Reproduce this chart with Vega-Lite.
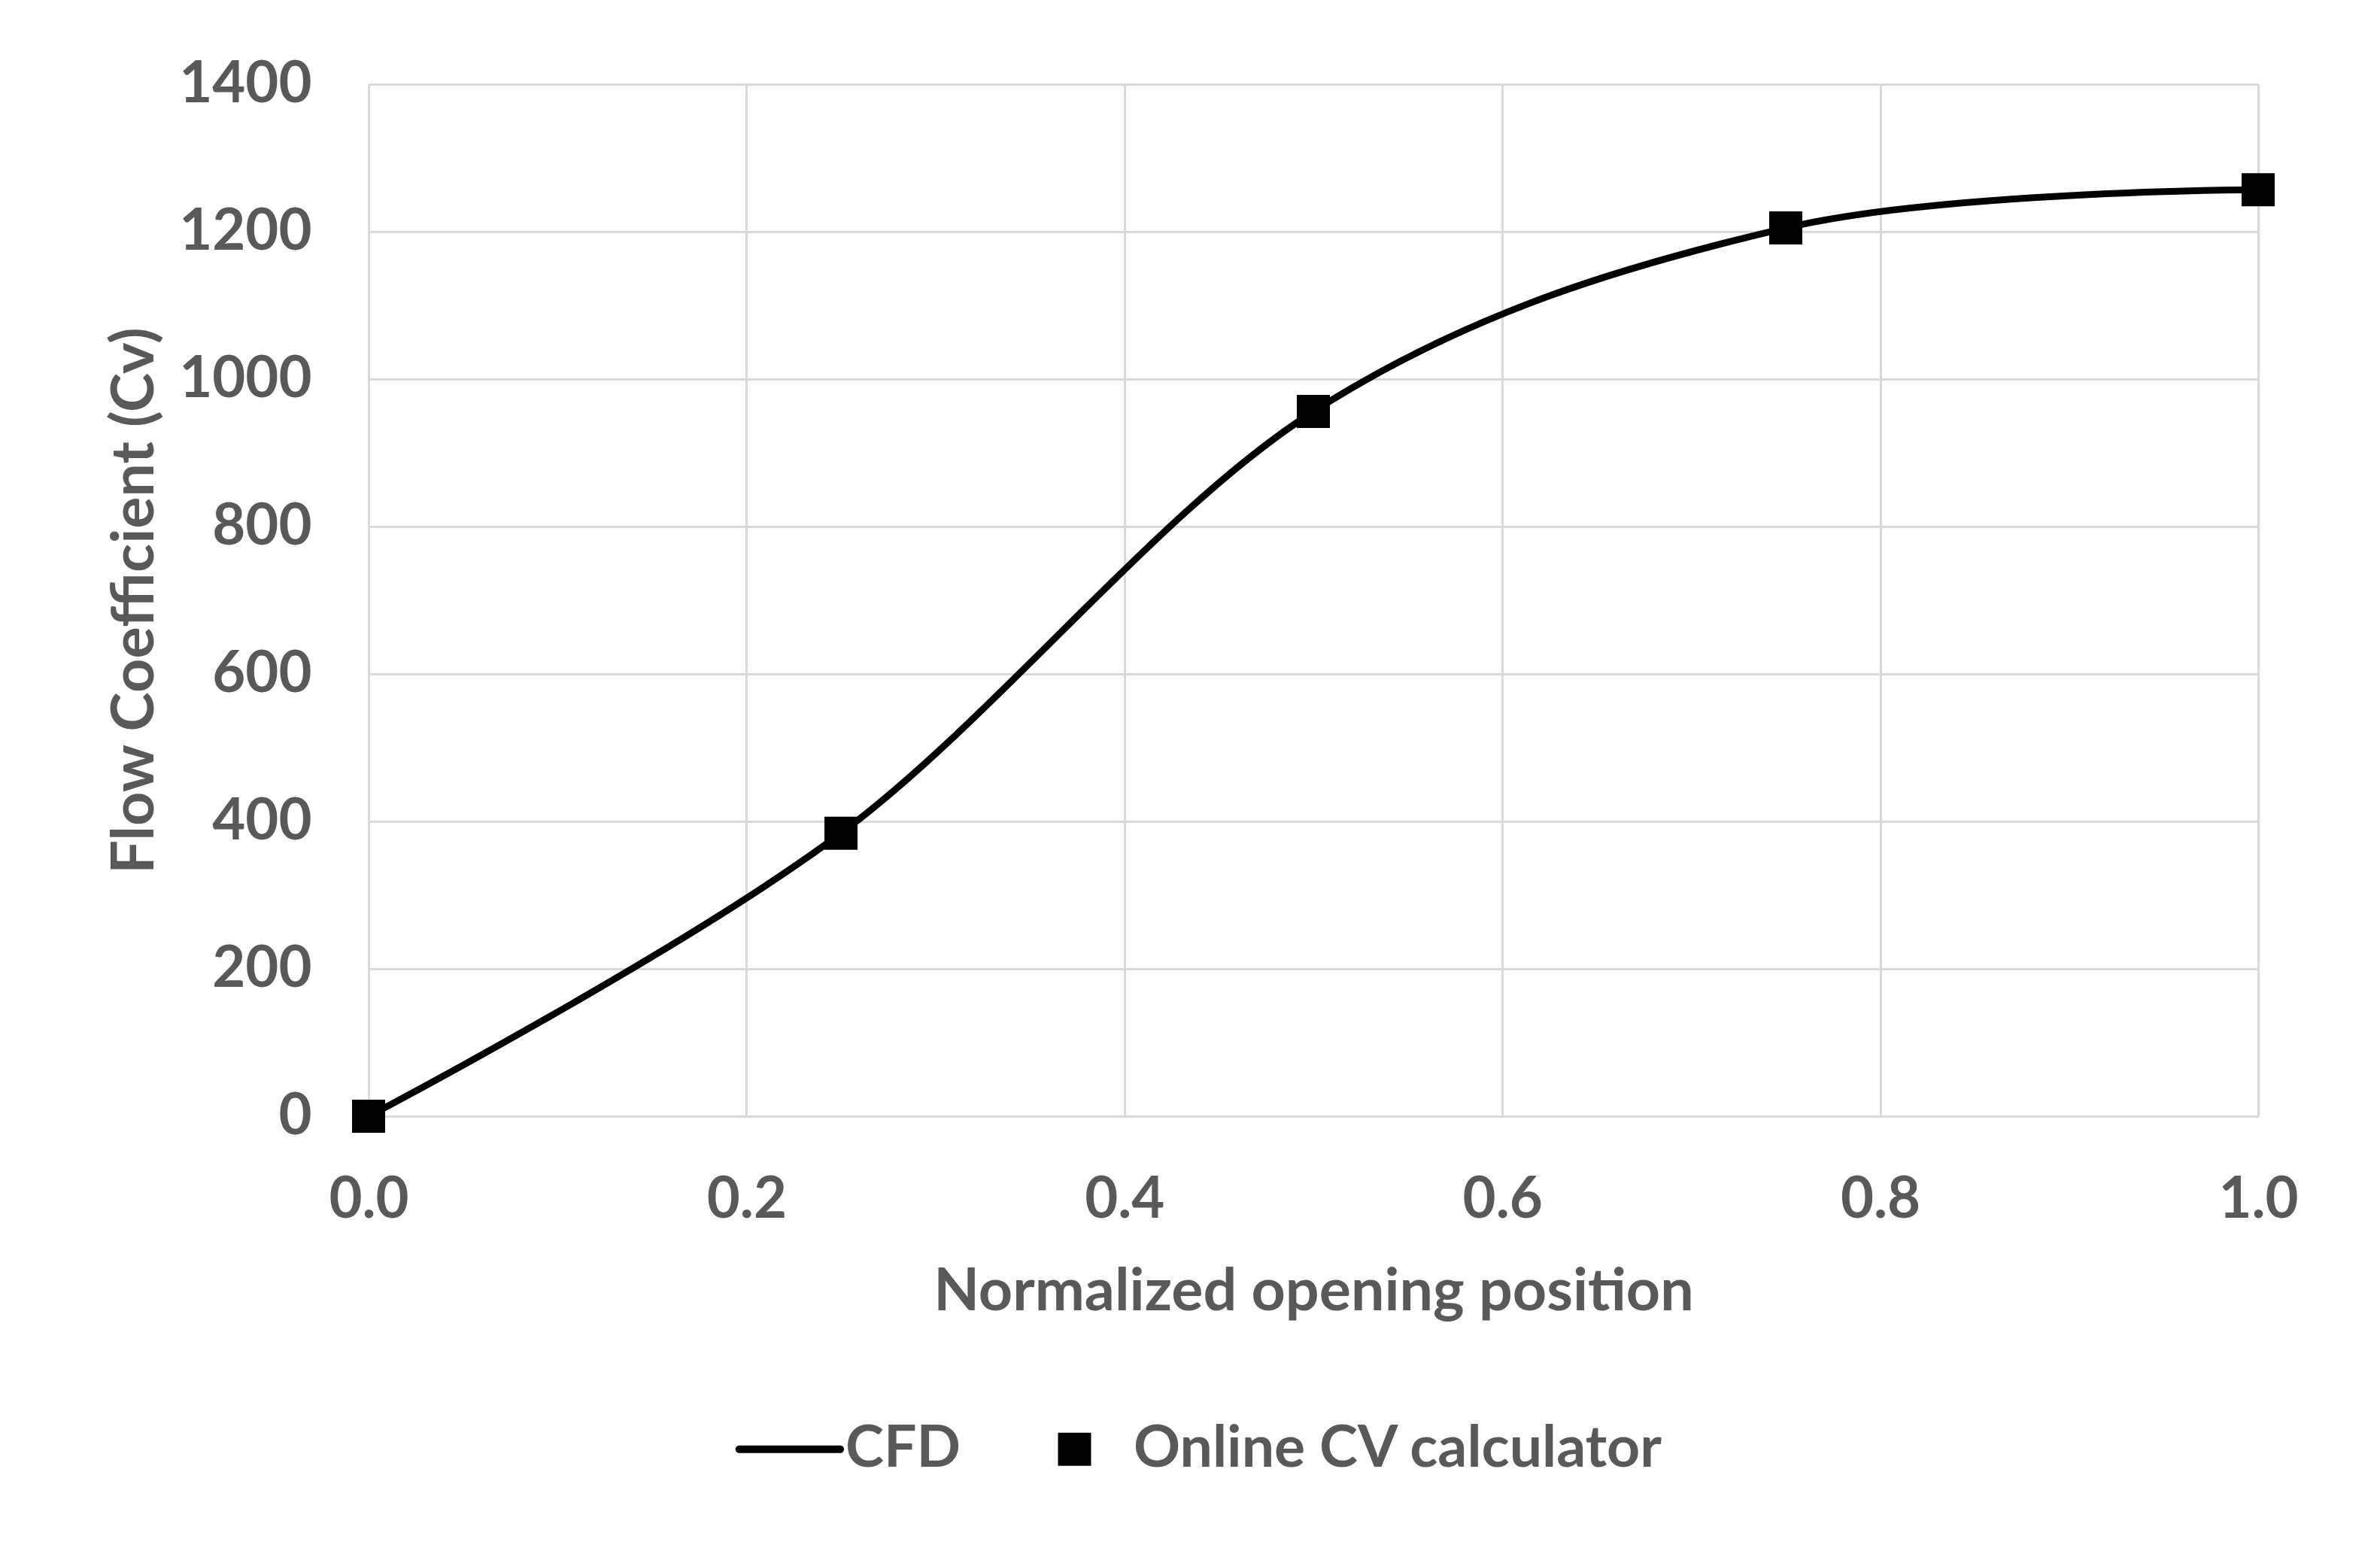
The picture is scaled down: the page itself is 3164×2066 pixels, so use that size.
{
  "$schema": "https://vega.github.io/schema/vega-lite/v6.json",
  "width": 2512,
  "height": 1372,
  "autosize": {"type": "none"},
  "padding": {"left": 490, "top": 112, "right": 162, "bottom": 582},
  "background": "white",
  "config": {
    "view": {"stroke": null},
    "font": "Lato",
    "axis": {
      "labelFont": "Lato", "labelFontWeight": "bold", "labelFontSize": 76, "labelColor": "#595959", "labelLimit": 1000,
      "titleFont": "Lato", "titleFontWeight": "bold", "titleFontSize": 79, "titleColor": "#595959",
      "gridColor": "#d9d9d9", "gridWidth": 3, "gridOpacity": 1,
      "domainColor": "#d9d9d9", "domainWidth": 3,
      "ticks": false, "tickSize": 0
    }
  },
  "data": {
    "values": [
      {"x": 0.0, "cv": 0, "series": "CFD"},
      {"x": 0.25, "cv": 384, "series": "CFD"},
      {"x": 0.5, "cv": 956, "series": "CFD"},
      {"x": 0.75, "cv": 1205, "series": "CFD"},
      {"x": 1.0, "cv": 1257, "series": "CFD"},
      {"x": 0.0, "cv": 0, "series": "Online CV calculator"},
      {"x": 0.25, "cv": 384, "series": "Online CV calculator"},
      {"x": 0.5, "cv": 956, "series": "Online CV calculator"},
      {"x": 0.75, "cv": 1205, "series": "Online CV calculator"},
      {"x": 1.0, "cv": 1257, "series": "Online CV calculator"}
    ]
  },
  "encoding": {
    "x": {
      "field": "x", "type": "quantitative",
      "scale": {"domain": [0, 1], "nice": false, "zero": false},
      "axis": {"title": "Normalized opening position", "values": [0, 0.2, 0.4, 0.6, 0.8, 1.0], "format": ".1f", "labelPadding": 74, "titlePadding": 46, "labelFlush": false}
    },
    "y": {
      "field": "cv", "type": "quantitative",
      "scale": {"domain": [0, 1400], "nice": false},
      "axis": {"title": "Flow Coefficient (Cv)", "values": [0, 200, 400, 600, 800, 1000, 1200, 1400], "format": "d", "labelPadding": 76, "titlePadding": 70}
    }
  },
  "layer": [
    {
      "transform": [{"filter": "datum.series === 'CFD'"}],
      "mark": {"type": "line", "interpolate": "cardinal", "tension": 0, "color": "black", "strokeWidth": 9, "strokeCap": "round"},
      "encoding": {}
    },
    {
      "transform": [{"filter": "datum.series === 'Online CV calculator'"}],
      "mark": {"type": "point", "filled": true, "color": "black", "opacity": 1, "size": 1936},
      "encoding": {
        "shape": {
          "field": "series", "type": "nominal",
          "scale": {"domain": ["CFD", "Online CV calculator"], "range": ["M-2.85,-0.23H3.25A0.23,0.23 0 0 1 3.25,0.23H-2.85A0.23,0.23 0 0 1 -2.85,-0.23Z", "square"]},
          "legend": {
            "title": null, "orient": "none", "direction": "horizontal",
            "legendX": 517, "legendY": 1776, "padding": 0,
            "symbolSize": 1936, "labelOffset": 40, "columnPadding": 112,
            "symbolFillColor": "black", "symbolStrokeWidth": 0,
            "labelFont": "Lato", "labelFontWeight": "bold", "labelFontSize": 77, "labelColor": "#595959", "labelLimit": 2000,
            "encode": {"symbols": {"update": {"fill": {"value": "black"}, "size": {"value": 1936}, "opacity": {"value": 1}, "fillOpacity": {"value": 1}}}}
          }
        }
      }
    }
  ]
}
